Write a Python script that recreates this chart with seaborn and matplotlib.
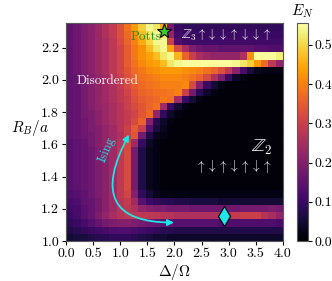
"""
Entanglement negativity E_N over the (Delta/Omega, R_B/a) plane as a seaborn heatmap.
"""

import numpy as np
import pandas as pd
import matplotlib
matplotlib.use("Agg")
import matplotlib.pyplot as plt
import seaborn as sns

# grid: 30 x 30 cells, Delta/Omega in [0, 4], R_B/a in [1.0, 2.35]
DELTA_EDGES = np.linspace(0.0, 4.0, 31)
RB_EDGES = np.linspace(2.35, 1.0, 31)          # top row first
DELTA = (DELTA_EDGES[:-1] + DELTA_EDGES[1:]) / 2
RB = (RB_EDGES[:-1] + RB_EDGES[1:]) / 2

# E_N in units of 0.01, rows from R_B/a = 2.35 (top) down to 1.0 (bottom)
EN_ROWS = [
    [15, 17, 19, 21, 23, 26, 29, 33, 38, 43, 49, 54, 52, 45, 18, 10, 9, 9, 9, 9, 9, 9, 9, 9, 9, 9, 9, 9, 9, 9],
    [15, 17, 19, 21, 23, 26, 29, 33, 37, 42, 47, 52, 54, 52, 22, 11, 10, 10, 10, 10, 10, 10, 10, 10, 10, 10, 10, 10, 10, 10],
    [15, 17, 19, 21, 23, 25, 28, 32, 36, 40, 45, 50, 54, 54, 30, 13, 11, 11, 11, 11, 11, 11, 11, 11, 11, 11, 11, 11, 11, 11],
    [15, 17, 19, 21, 23, 25, 28, 31, 35, 39, 42, 47, 52, 54, 44, 32, 25, 19, 17, 16, 16, 15, 15, 15, 15, 15, 14, 14, 13, 13],
    [15, 17, 19, 21, 23, 25, 28, 31, 35, 39, 42, 44, 47, 52, 54, 46, 36, 30, 25, 23, 22, 22, 22, 22, 26, 42, 55, 55, 55, 53],
    [15, 17, 19, 21, 23, 25, 28, 31, 35, 38, 41, 43, 44, 47, 52, 54, 55, 55, 55, 55, 55, 55, 55, 54, 52, 49, 43, 37, 28, 22],
    [15, 17, 19, 21, 23, 25, 28, 31, 34, 37, 39, 41, 42, 43, 43, 43, 42, 41, 40, 38, 36, 33, 28, 21, 12, 6, 3, 2, 2, 2],
    [15, 16, 18, 20, 22, 24, 27, 30, 33, 36, 38, 39, 40, 41, 41, 41, 40, 38, 36, 32, 26, 19, 10, 4, 2, 1, 1, 1, 1, 1],
    [15, 16, 18, 20, 22, 24, 26, 29, 32, 35, 37, 38, 39, 40, 40, 40, 41, 32, 20, 10, 5, 2, 1, 1, 1, 1, 1, 1, 1, 1],
    [15, 16, 18, 20, 22, 24, 26, 28, 31, 34, 36, 37, 38, 38, 39, 40, 30, 18, 8, 4, 2, 1, 1, 1, 1, 1, 1, 1, 1, 1],
    [15, 16, 18, 20, 22, 24, 26, 28, 30, 33, 35, 36, 37, 39, 38, 24, 10, 5, 2, 1, 1, 1, 1, 1, 1, 1, 1, 1, 1, 1],
    [15, 16, 18, 20, 22, 23, 25, 27, 30, 32, 34, 36, 38, 24, 10, 5, 2, 1, 1, 1, 1, 1, 1, 1, 1, 1, 1, 1, 1, 1],
    [15, 16, 18, 19, 21, 23, 25, 27, 29, 31, 34, 37, 22, 9, 4, 2, 1, 1, 1, 1, 1, 1, 1, 1, 1, 1, 1, 1, 1, 1],
    [15, 16, 17, 19, 21, 23, 25, 27, 29, 32, 36, 20, 8, 4, 2, 1, 1, 1, 1, 1, 1, 1, 1, 1, 1, 1, 1, 1, 1, 1],
    [15, 16, 17, 19, 20, 22, 24, 27, 30, 35, 30, 14, 6, 3, 1, 1, 1, 1, 1, 1, 1, 1, 1, 1, 1, 1, 1, 1, 1, 1],
    [15, 16, 17, 18, 20, 22, 24, 26, 30, 34, 18, 7, 3, 2, 1, 1, 1, 1, 1, 1, 1, 1, 1, 1, 1, 1, 1, 1, 1, 1],
    [14, 15, 16, 18, 20, 22, 24, 27, 32, 24, 10, 4, 2, 1, 1, 1, 1, 1, 1, 1, 1, 1, 1, 1, 1, 1, 1, 1, 1, 1],
    [14, 15, 16, 17, 19, 21, 24, 28, 32, 18, 7, 3, 2, 1, 1, 1, 1, 1, 1, 1, 1, 1, 1, 1, 1, 1, 1, 1, 1, 1],
    [14, 15, 16, 17, 19, 21, 24, 28, 32, 18, 7, 3, 2, 1, 1, 1, 1, 1, 1, 1, 1, 1, 1, 1, 1, 1, 1, 1, 1, 1],
    [14, 15, 16, 17, 19, 21, 24, 28, 32, 18, 7, 3, 2, 1, 1, 1, 1, 1, 1, 1, 1, 1, 1, 1, 1, 1, 1, 1, 1, 1],
    [14, 15, 16, 17, 19, 21, 24, 28, 32, 18, 7, 3, 2, 1, 1, 1, 1, 1, 1, 1, 1, 1, 1, 1, 1, 1, 1, 1, 1, 1],
    [14, 15, 16, 17, 19, 21, 24, 28, 32, 18, 7, 3, 2, 1, 1, 1, 1, 1, 1, 1, 1, 1, 1, 1, 1, 1, 1, 1, 1, 1],
    [14, 15, 16, 17, 19, 21, 24, 28, 32, 18, 7, 3, 2, 1, 1, 1, 1, 1, 1, 1, 1, 1, 1, 1, 1, 1, 1, 1, 1, 1],
    [13, 14, 15, 17, 19, 21, 24, 28, 31, 20, 9, 5, 3, 2, 2, 2, 2, 2, 2, 2, 2, 2, 2, 2, 2, 2, 2, 2, 2, 2],
    [12, 13, 15, 16, 18, 21, 24, 27, 29, 24, 14, 10, 9, 8, 8, 7, 7, 6, 6, 6, 6, 5, 5, 5, 5, 5, 5, 5, 5, 5],
    [11, 12, 14, 16, 18, 21, 24, 27, 28, 26, 22, 20, 19, 19, 18, 18, 18, 17, 17, 17, 17, 17, 17, 17, 18, 18, 18, 18, 19, 18],
    [10, 12, 14, 16, 19, 22, 25, 27, 28, 28, 28, 28, 28, 27, 27, 26, 26, 26, 26, 26, 26, 26, 27, 29, 30, 30, 30, 27, 25, 22],
    [9, 10, 12, 14, 16, 18, 19, 20, 20, 19, 18, 17, 16, 15, 15, 14, 14, 14, 14, 14, 14, 13, 13, 13, 13, 13, 13, 13, 13, 12],
    [7, 8, 9, 10, 11, 12, 13, 13, 13, 12, 11, 10, 9, 8, 8, 7, 7, 7, 7, 7, 7, 7, 7, 7, 7, 7, 7, 7, 7, 7],
    [5, 6, 6, 7, 8, 8, 9, 9, 9, 8, 7, 6, 5, 5, 4, 4, 4, 4, 4, 4, 4, 4, 4, 4, 4, 4, 4, 4, 4, 4],
]

X_TICKS = [0.0, 0.5, 1.0, 1.5, 2.0, 2.5, 3.0, 3.5, 4.0]
Y_TICKS = [1.0, 1.2, 1.4, 1.6, 1.8, 2.0, 2.2]
CBAR_TICKS = [0.0, 0.1, 0.2, 0.3, 0.4, 0.5]

# special points
POTTS_POINT = (1.80, 2.30)
DIAMOND_POINT = (2.91, 1.155)
ISING_TOP = (1.16, 1.66)
ISING_BOTTOM = (1.99, 1.115)

CYAN = "#1ee6e6"

plt.rcParams["font.family"] = "serif"
plt.rcParams["font.serif"] = ["cmr10", "DejaVu Serif"]
plt.rcParams["mathtext.fontset"] = "cm"
plt.rcParams["axes.formatter.use_mathtext"] = True


def hx(d):
    """Delta/Omega -> heatmap column coordinate."""
    return (d - DELTA_EDGES[0]) / (DELTA_EDGES[-1] - DELTA_EDGES[0]) * len(DELTA)


def hy(r):
    """R_B/a -> heatmap row coordinate (row 0 at the top)."""
    return (RB_EDGES[0] - r) / (RB_EDGES[0] - RB_EDGES[-1]) * len(RB)


df = pd.DataFrame(np.array(EN_ROWS) / 100.0, index=np.round(RB, 3), columns=np.round(DELTA, 3))

fig = plt.figure(figsize=(3.32, 2.81), dpi=100)
ax = fig.add_axes([0.199, 0.142, 0.653, 0.775])
cax = fig.add_axes([0.8946, 0.142, 0.0331, 0.775])

sns.heatmap(df, ax=ax, cbar_ax=cax, cmap="inferno", vmin=0.0, vmax=0.555,
            xticklabels=False, yticklabels=False)

ax.set_xticks([hx(v) for v in X_TICKS])
ax.set_xticklabels([f"{v:.1f}" for v in X_TICKS], rotation=0, fontsize=10)
ax.set_yticks([hy(v) for v in Y_TICKS])
ax.set_yticklabels([f"{v:.1f}" for v in Y_TICKS], rotation=0, fontsize=10)
ax.tick_params(length=3, width=0.8, pad=2)
for spine in ax.spines.values():
    spine.set_visible(True)
    spine.set_color("0.35")
    spine.set_linewidth(0.8)

ax.set_xlabel(r"$\Delta/\Omega$", fontsize=11)
ax.xaxis.set_label_coords(0.5, -0.095)
ax.set_ylabel(r"$R_B/a$", fontsize=11, rotation=0, ha="center", va="center")
ax.yaxis.set_label_coords(-0.165, 0.52)

# phase labels
ax.text(hx(0.77), hy(1.99), "Disordered", color="white", fontsize=9.5, ha="center", va="center")
ax.text(hx(1.47), hy(2.265), "Potts", color="#1f8f1f", fontsize=9.5, ha="center", va="center")
ax.text(hx(2.12), hy(2.275),
        r"$\mathbb{Z}_3\uparrow\downarrow\downarrow\uparrow\downarrow\downarrow\uparrow$",
        color="white", fontsize=9.2, ha="left", va="center")
ax.text(hx(3.6), hy(1.58), r"$\mathbb{Z}_2$", color="white", fontsize=13, ha="center", va="center")
ax.text(hx(3.08), hy(1.465),
        r"$\uparrow\downarrow\uparrow\downarrow\uparrow\downarrow\uparrow$",
        color="white", fontsize=9.3, ha="center", va="center")

# markers
ax.plot(hx(POTTS_POINT[0]), hy(POTTS_POINT[1]), marker="*", markersize=11,
        color="#33cc33", markeredgecolor="black", markeredgewidth=0.8)
ax.plot(hx(DIAMOND_POINT[0]), hy(DIAMOND_POINT[1]), marker="d", markersize=10,
        color=CYAN, markeredgecolor="black", markeredgewidth=0.8)

# Ising path
ax.annotate("", xy=(hx(ISING_TOP[0]), hy(ISING_TOP[1])),
            xytext=(hx(ISING_BOTTOM[0]), hy(ISING_BOTTOM[1])),
            arrowprops=dict(arrowstyle="<|-|>", color=CYAN, lw=1.3, mutation_scale=9,
                            shrinkA=0, shrinkB=0,
                            connectionstyle="angle3,angleA=0,angleB=62"))
ax.text(hx(0.76), hy(1.57), "Ising", color=CYAN, fontsize=9, rotation=68,
        ha="center", va="center")

cbar = ax.collections[0].colorbar
cbar.set_ticks(CBAR_TICKS)
cbar.set_ticklabels([f"{v:.1f}" for v in CBAR_TICKS])
cbar.ax.tick_params(labelsize=10, length=3, width=0.8, pad=2)
cbar.outline.set_visible(True)
cbar.outline.set_linewidth(0.8)
cbar.outline.set_edgecolor("0.35")
cax.set_title(r"$E_N$", fontsize=11, pad=6)

fig.savefig("out.png", dpi=100)
